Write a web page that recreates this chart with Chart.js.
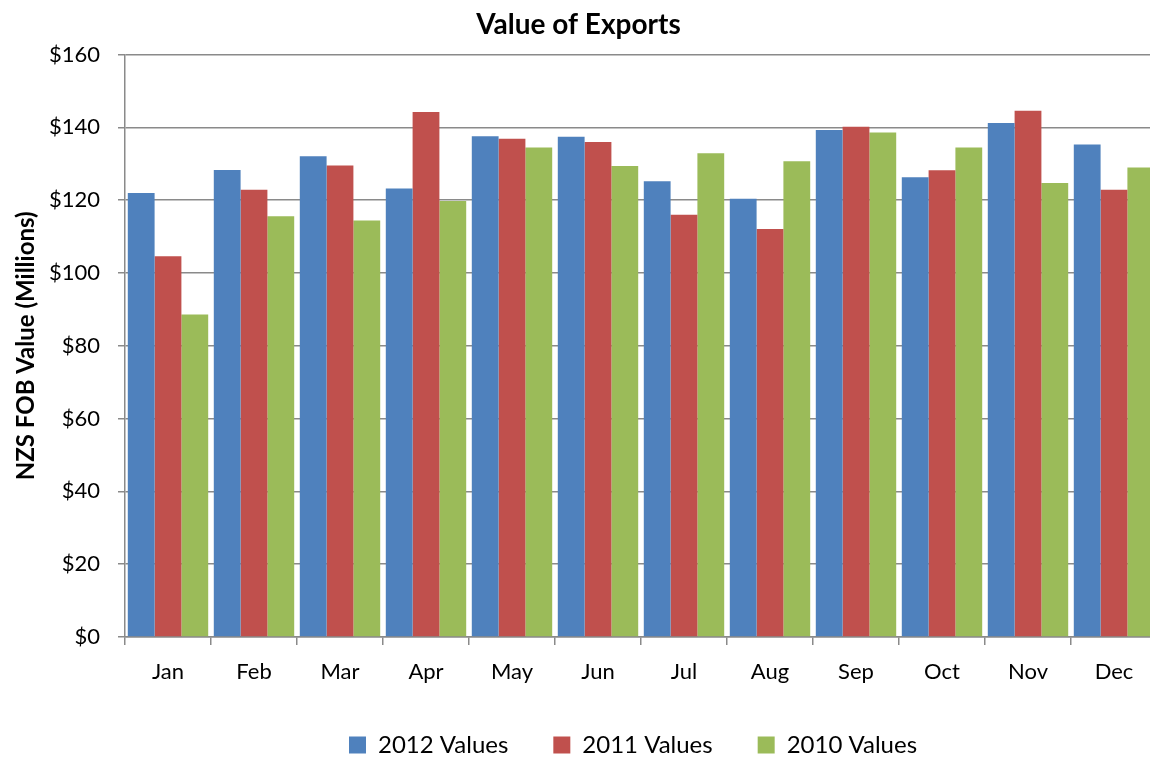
<!DOCTYPE html>
<html>
<head>
<meta charset="utf-8">
<script src="https://cdn.jsdelivr.net/npm/chart.js@4.4.0/dist/chart.umd.min.js"></script>
<style>
  html, body { margin: 0; padding: 0; background: #fff; overflow: hidden; }
  #wrap { width: 1160px; height: 760px; }
</style>
</head>
<body>
<div id="wrap"><canvas id="exportsChart" width="1160" height="760"></canvas></div>
<script>
// ── 数据 ──
const MONTHS = ['Jan', 'Feb', 'Mar', 'Apr', 'May', 'Jun', 'Jul', 'Aug', 'Sep', 'Oct', 'Nov', 'Dec'];
const VALUES_2012 = [122.0, 128.3, 132.1, 123.2, 137.6, 137.4, 125.2, 120.4, 139.3, 126.3, 141.2, 135.3];
const VALUES_2011 = [104.6, 122.9, 129.5, 144.2, 136.9, 136.0, 116.0, 112.1, 140.2, 128.2, 144.6, 122.9];
const VALUES_2010 = [88.6, 115.6, 114.4, 119.8, 134.5, 129.4, 132.9, 130.7, 138.6, 134.5, 124.7, 129.0];
const Y_TICKS = [0, 20, 40, 60, 80, 100, 120, 140, 160];

const FONT = 'Lato, "Open Sans", sans-serif';
const AXIS_GRAY = '#8a8a8a';

// 图例整体略向左移，和原图居中位置一致
const legendShift = {
  id: 'legendShift',
  afterLayout(chart) {
    chart.legend.left -= 8;
    chart.legend.right -= 8;
  }
};

const ctx = document.getElementById('exportsChart').getContext('2d');
new Chart(ctx, {
  type: 'bar',
  data: {
    labels: MONTHS,
    datasets: [
      { label: '2012 Values', data: VALUES_2012, backgroundColor: '#4F81BD' },
      { label: '2011 Values', data: VALUES_2011, backgroundColor: '#C0504D' },
      { label: '2010 Values', data: VALUES_2010, backgroundColor: '#9BBB59' }
    ]
  },
  plugins: [legendShift],
  options: {
    responsive: false,
    animation: false,
    devicePixelRatio: 1,
    datasets: { bar: { barPercentage: 1.0, categoryPercentage: 0.935 } },
    layout: { padding: { left: 0, right: 3, top: 0, bottom: -7 } },
    plugins: {
      title: {
        display: true,
        text: 'Value of Exports',
        color: '#000',
        font: { family: FONT, size: 28, weight: 'bold' },
        padding: { top: 8, bottom: 13 }
      },
      legend: {
        position: 'bottom',
        fullSize: false,
        labels: {
          color: '#000',
          font: { family: FONT, size: 24 },
          boxWidth: 17,
          boxHeight: 17,
          padding: 45
        }
      },
      tooltip: { enabled: false }
    },
    scales: {
      x: {
        grid: {
          display: true,
          drawOnChartArea: false,
          drawTicks: true,
          tickLength: 8,
          offset: true,
          color: AXIS_GRAY,
          lineWidth: 1.5
        },
        border: { display: true, color: AXIS_GRAY, width: 1.5 },
        ticks: { color: '#000', font: { family: FONT, size: 22 }, padding: 14 },
        afterFit: (scale) => { scale.height = 51; }
      },
      y: {
        min: 0,
        max: 160,
        afterBuildTicks: (scale) => { scale.ticks = Y_TICKS.map(v => ({ value: v })); },
        grid: { color: AXIS_GRAY, lineWidth: 1.5, tickLength: 7 },
        border: { display: true, color: AXIS_GRAY, width: 1.5 },
        ticks: {
          color: '#000',
          font: { family: FONT, size: 22 },
          padding: 18,
          callback: v => '$' + v
        },
        title: {
          display: true,
          text: 'NZS FOB Value (Millions)',
          color: '#000',
          font: { family: FONT, size: 24, weight: 'bold' },
          padding: { top: 12, bottom: 2 }
        },
        afterFit: (scale) => { scale.width = 125; }
      }
    }
  }
});
</script>
</body>
</html>
